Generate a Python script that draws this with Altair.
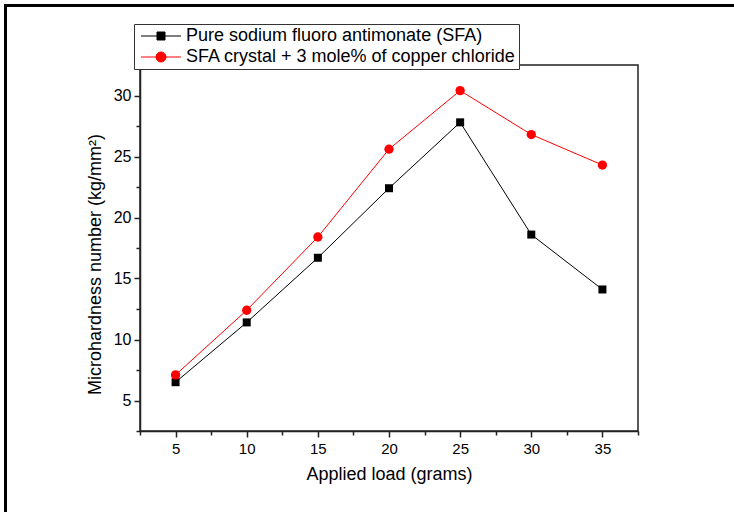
import altair as alt
import pandas as pd

loads = [5, 10, 15, 20, 25, 30, 35]
pure_sfa = [6.5, 11.4, 16.7, 22.4, 27.8, 18.6, 14.1]
sfa_cu = [7.1, 12.4, 18.4, 25.6, 30.4, 26.8, 24.3]
series_names = ["Pure sodium fluoro antimonate (SFA)",
                "SFA crystal + 3 mole% of copper chloride"]
series_colors = ["#000000", "#FF0000"]
x_major = [5, 10, 15, 20, 25, 30, 35]
x_minor = [2.5, 7.5, 12.5, 17.5, 22.5, 27.5, 32.5, 37.5]
y_major = [5, 10, 15, 20, 25, 30]
y_minor = [2.5, 7.5, 12.5, 17.5, 22.5, 27.5, 32.5]

df = pd.DataFrame({
    "load": loads * 2,
    "hv": pure_sfa + sfa_cu,
    "series": [series_names[0]] * len(loads) + [series_names[1]] * len(loads),
})

FONT = "Liberation Sans"
xscale = alt.Scale(domain=[2.5, 37.5], nice=False, zero=False)
yscale = alt.Scale(domain=[2.5, 32.5], nice=False, zero=False)

sq_path = "M-4,0H4M-0.8,-0.8H0.8V0.8H-0.8Z"
ci_path = "M-4,0H4M1,0A1,1,0,1,1,-1,0A1,1,0,1,1,1,0Z"
shape_expr = "datum.value === '%s' ? '%s' : '%s'" % (series_names[0], sq_path, ci_path)

x_axis = alt.Axis(values=x_major, title="Applied load (grams)", labelFontSize=15,
                  titleFontSize=18, tickSize=6, labelPadding=4, titlePadding=9,
                  grid=False, domainColor="#222", tickColor="#222", domainWidth=1.5,
                  tickWidth=1.5, labelFont=FONT, titleFont=FONT, labelColor="black",
                  titleColor="black", titleFontWeight="normal", orient="bottom")
y_axis = alt.Axis(values=y_major, title="Microhardness number (kg/mm²)", labelFontSize=16,
                  titleFontSize=18, tickSize=6, labelPadding=3, grid=False,
                  domainColor="#222", tickColor="#222", domainWidth=1.5, tickWidth=1.5,
                  labelFont=FONT, titleFont=FONT, labelColor="black", titleColor="black",
                  titleFontWeight="normal", titleX=-45, titleY=199, titleAngle=-90,
                  titleAlign="center", titleBaseline="middle", orient="left")

lines = alt.Chart(df).mark_line(strokeWidth=1).encode(
    x=alt.X("load:Q", scale=xscale, axis=x_axis),
    y=alt.Y("hv:Q", scale=yscale, axis=y_axis),
    color=alt.Color("series:N", scale=alt.Scale(domain=series_names, range=series_colors),
                    legend=alt.Legend(
                        title=None, orient="none", legendX=-6, legendY=-41,
                        labelFont=FONT, labelFontSize=18, labelColor="black",
                        labelLimit=0,
                        symbolSize=100, symbolOffset=15, labelOffset=16,
                        rowPadding=3, padding=3, fillColor="white",
                        strokeColor="#333", symbolStrokeWidth=1,
                        symbolType=alt.ExprRef(expr=shape_expr),
                        symbolFillColor=alt.ExprRef(expr="scale('color', datum.value)"),
                        symbolOpacity=1)),
)

minor_x = alt.Chart(df).mark_point(opacity=0).encode(
    x=alt.X("load:Q", scale=xscale,
            axis=alt.Axis(values=x_minor, labels=False, title=None, tickSize=4,
                          domain=False, grid=False, tickColor="#222", tickWidth=1.5,
                          orient="bottom")),
    y=alt.Y("hv:Q", scale=yscale,
            axis=alt.Axis(values=y_minor, labels=False, title=None, tickSize=4,
                          domain=False, grid=False, tickColor="#222", tickWidth=1.5,
                          orient="left")),
)

pts_black = alt.Chart(df).transform_filter(
    alt.datum.series == series_names[0]
).mark_point(shape="square", filled=True, size=64, opacity=1, color="#000000").encode(
    x=alt.X("load:Q", scale=xscale, axis=None), y=alt.Y("hv:Q", scale=yscale, axis=None))

pts_red = alt.Chart(df).transform_filter(
    alt.datum.series == series_names[1]
).mark_point(shape="circle", filled=True, size=87, opacity=1, color="#FF0000").encode(
    x=alt.X("load:Q", scale=xscale, axis=None), y=alt.Y("hv:Q", scale=yscale, axis=None))

frame_top = alt.Chart(df).mark_rule(color="black", strokeWidth=3).encode(
    x=alt.value(-136), x2=alt.value(600), y=alt.value(-59.5))
frame_left = alt.Chart(df).mark_rule(color="black", strokeWidth=3).encode(
    x=alt.value(-134.5), y=alt.value(-61), y2=alt.value(460))

chart = alt.layer(minor_x, lines, pts_black, pts_red, frame_top, frame_left).resolve_axis(
    x="independent", y="independent"
).properties(
    width=498, height=366,
    autosize=alt.AutoSizeParams(type="none"),
    padding={"left": 140, "top": 65, "right": 96, "bottom": 81},
    background="white",
).configure_view(stroke="#222", strokeWidth=1.5)

chart.save("out.html", embed_options={"renderer": "svg", "actions": False})
